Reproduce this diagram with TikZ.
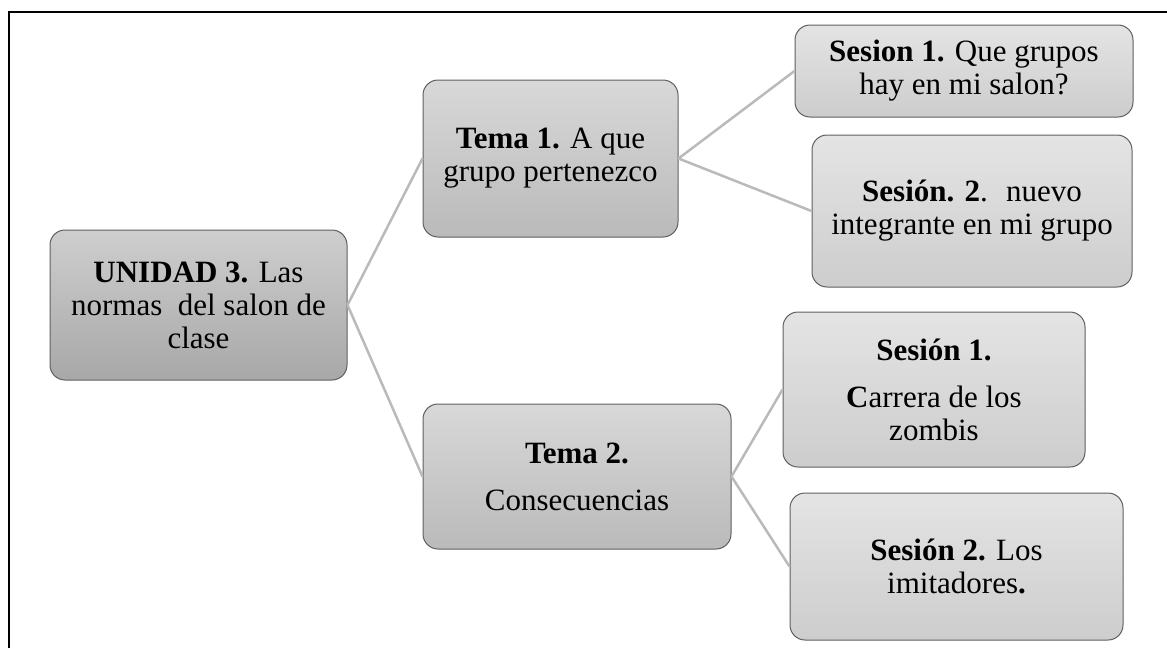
\documentclass[tikz,border=0pt]{standalone}
\usepackage{fontspec}
\setmainfont{Liberation Serif}
\definecolor{linkc}{RGB}{186,186,186}
\definecolor{edgec}{RGB}{95,95,95}
\definecolor{rootT}{RGB}{206,206,206}
\definecolor{rootB}{RGB}{168,168,168}
\definecolor{temaT}{RGB}{216,216,216}
\definecolor{temaB}{RGB}{186,186,186}
\definecolor{sesT}{RGB}{228,228,228}
\definecolor{sesB}{RGB}{205,205,205}
\begin{document}
\begin{tikzpicture}[x=1pt,y=-1pt,
  box/.style={draw=edgec, line width=1pt, rounded corners=15pt, align=center,
    inner sep=0pt, font=\fontsize{31}{33}\selectfont},
  rootbox/.style={box, top color=rootT, bottom color=rootB},
  temabox/.style={box, top color=temaT, bottom color=temaB},
  sesbox/.style={box, top color=sesT, bottom color=sesB},
  link/.style={draw=linkc, line width=2.5pt}]
\useasboundingbox (0,0) rectangle (1167,648);
\draw[line width=2pt, black] (9,648) -- (9,12) -- (1167,12);

\node[rootbox, minimum width=297pt, minimum height=150pt] (u) at (198.5,305)
  {\textbf{UNIDAD 3.} Las\\normas~ del salon de\\clase};
\node[temabox, minimum width=255pt, minimum height=157pt] (t1) at (550.5,158.5)
  {\textbf{Tema 1.} A que\\grupo pertenezco};
\node[temabox, minimum width=308pt, minimum height=145pt] (t2) at (577,476.5)
  {\textbf{Tema 2.}\\[14pt]Consecuencias};
\node[sesbox, minimum width=338pt, minimum height=92pt] (s11) at (964,71)
  {\textbf{Sesion 1.} Que grupos\\hay en mi salon?};
\node[sesbox, minimum width=320pt, minimum height=152pt] (s12) at (972,211)
  {\textbf{Sesión. 2}.~ nuevo\\integrante en mi grupo};
\node[sesbox, minimum width=302pt, minimum height=155pt] (s21) at (934,389.5)
  {\textbf{Sesión 1.}\\[14pt]\textbf{C}arrera de los\\zombis~};
\node[sesbox, minimum width=333pt, minimum height=147pt] (s22) at (956.5,566.5)
  {\textbf{Sesión 2.} Los\\imitadores\textbf{.}};

\begin{scope}[on background layer/.style={}]
\draw[link] (u.east) -- (t1.west);
\draw[link] (u.east) -- (t2.west);
\draw[link] (t1.east) -- (s11.west);
\draw[link] (t1.east) -- (s12.west);
\draw[link] (t2.east) -- (s21.west);
\draw[link] (t2.east) -- (s22.west);
\end{scope}
\end{tikzpicture}
\end{document}
